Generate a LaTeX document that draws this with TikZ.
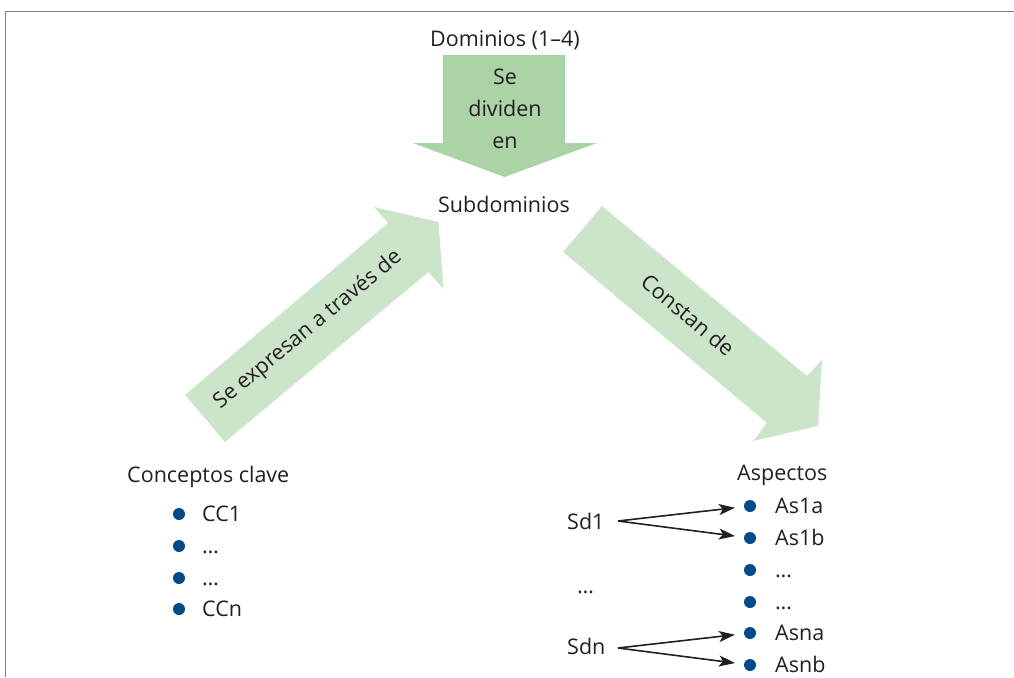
\documentclass[tikz,border=0pt]{standalone}
\usepackage{fontspec}
\setmainfont{Open Sans}
\usetikzlibrary{arrows.meta}
\definecolor{darkgreen}{HTML}{AAD4A5}
\definecolor{lightgreen}{HTML}{CCE5CA}
\definecolor{bulletblue}{HTML}{004B87}
\definecolor{txt}{HTML}{231F20}
\definecolor{framegray}{HTML}{808080}
\begin{document}
\begin{tikzpicture}[x=1pt,y=-1pt,
  lbl/.style={inner sep=0pt,text=txt,font=\fontsize{21.5}{31.7}\selectfont},
  bul/.style={circle,fill=bulletblue,inner sep=0pt,minimum size=12pt},
  arr/.style={-{Stealth[length=16pt,width=11pt,inset=4pt]},line width=1.6pt,txt},
  framel/.style={framegray,line width=1.6pt}]
\useasboundingbox (0,0) rectangle (1014,677);
% frame
\draw[framel] (5.5,677) -- (5.5,11.5) -- (1014,11.5);
% big arrows
\fill[darkgreen] (443,55) -- (565,55) -- (565,143) -- (597,143) -- (504.5,177) -- (413,143) -- (443,143) -- cycle;
\fill[lightgreen] (185,395) -- (388,223) -- (374,207) -- (438.5,222) -- (443.5,289) -- (428.5,272) -- (225,442) -- cycle;
\fill[lightgreen] (602,206) -- (807,376) -- (822,360) -- (818,426) -- (753,441) -- (767,423) -- (563,252) -- cycle;
% texts
\node[lbl,anchor=base] (dom) at (505,47) {Dominios (1\textendash 4)};
\node[lbl,anchor=base,align=center] (div) at (505,148) {Se\\dividen\\en};
\node[lbl,anchor=base] (sub) at (504,212) {Subdominios};
\node[lbl,rotate=39.5] (expr) at (308,330) {Se expresan a través de};
\node[lbl,rotate=-40] (const) at (688,315) {Constan de};
% Conceptos clave
\node[lbl,anchor=base west] (cc) at (127,482) {Conceptos clave};
\node[bul] (c1) at (179,514) {};
\node[bul] (c2) at (179,546) {};
\node[bul] (c3) at (179,578) {};
\node[bul] (c4) at (179,609) {};
\node[lbl,anchor=base west] (tc1) at (202,521) {CC1};
\node[lbl,anchor=base west] (tc2) at (202,553) {…};
\node[lbl,anchor=base west] (tc3) at (202,585) {…};
\node[lbl,anchor=base west] (tc4) at (202,616) {CCn};
% Aspectos
\node[lbl,anchor=base west] (asp) at (737,480) {Aspectos};
\node[bul] (a1) at (750,506) {};
\node[bul] (a2) at (750,538) {};
\node[bul] (a3) at (750,570) {};
\node[bul] (a4) at (750,602) {};
\node[bul] (a5) at (750,633) {};
\node[bul] (a6) at (750,665) {};
\node[lbl,anchor=base west] (ta1) at (775,513) {As1a};
\node[lbl,anchor=base west] (ta2) at (775,545) {As1b};
\node[lbl,anchor=base west] (ta3) at (775,577) {…};
\node[lbl,anchor=base west] (ta4) at (775,609) {…};
\node[lbl,anchor=base west] (ta5) at (775,640) {Asna};
\node[lbl,anchor=base west] (ta6) at (775,672) {Asnb};
% Subdominio labels
\node[lbl,anchor=base west] (sd1) at (567,529) {Sd1};
\node[lbl,anchor=base west] (sdd) at (577,593) {…};
\node[lbl,anchor=base west] (sdn) at (567,654) {Sdn};
\coordinate (s1) at (618,521);
\coordinate (sn) at (618,648);
\draw[arr,shorten >=9pt] (s1) -- (a1);
\draw[arr,shorten >=9pt] (s1) -- (a2);
\draw[arr,shorten >=9pt] (sn) -- (a5);
\draw[arr,shorten >=9pt] (sn) -- (a6);
\end{tikzpicture}
\end{document}
